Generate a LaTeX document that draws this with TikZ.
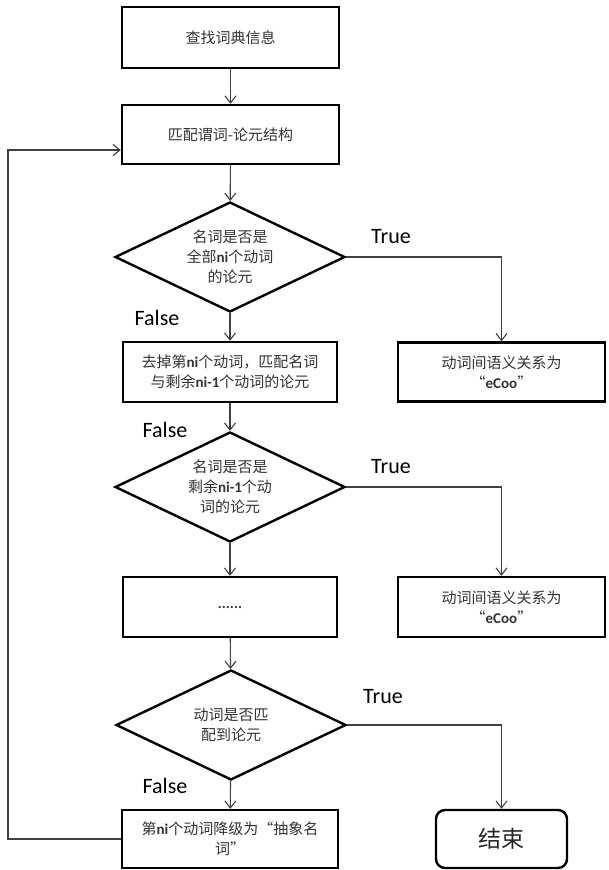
\documentclass[tikz,border=0pt]{standalone}
\usepackage{fontspec}
\setmainfont{Carlito}
\newfontfamily\cjk{Noto Sans CJK SC}
\usetikzlibrary{shapes.geometric,arrows.meta}

% body text of the boxes: Chinese face, Latin fragments in Carlito bold
\newcommand\bodyfont{\fontsize{15}{20}\selectfont\cjk}
\newcommand\lat[1]{{\rmfamily\bfseries #1}}

\tikzset{
  procbox/.style={rectangle, draw=black, line width=2.4pt, inner sep=0pt,
    align=center, font=\bodyfont, text=black!80},
  decide/.style={diamond, draw=black, line width=2.4pt, inner sep=0pt,
    aspect=2.09, minimum width=230pt, minimum height=110pt,
    align=center, font=\bodyfont, text=black!80},
  endbox/.style={rectangle, rounded corners=9pt, draw=black, line width=2.4pt,
    inner sep=0pt, font=\fontsize{23}{26}\selectfont\cjk, text=black!85},
  flow/.style={draw=black!75, line width=1.1pt,
    -{Straight Barb[length=7pt,width=11pt,line width=1.1pt]}},
  tag/.style={font=\fontsize{22}{26}\selectfont, text=black, inner sep=0pt}
}

\begin{document}
\begin{tikzpicture}[x=1pt,y=-1pt]
\useasboundingbox[fill=white] (0,0) rectangle (608,870);

% main column
\node[procbox, minimum width=217pt, minimum height=61pt] (find) at (230.5,37.5) {查找词典信息};
\node[procbox, minimum width=217pt, minimum height=59pt] (match) at (230.5,134.5) {匹配谓词-论元结构};
\node[decide] (q1) at (230,257) {名词是否是\\全部\lat{ni}个动词\\的论元};
\node[procbox, minimum width=214pt, minimum height=60pt] (drop) at (230,372)
  {去掉第\lat{ni}个动词，匹配名词\\与剩余\lat{ni-1}个动词的论元};
\node[decide] (q2) at (230,487) {名词是否是\\剩余\lat{ni-1}个动\\词的论元};
\node[procbox, minimum width=214pt, minimum height=60pt] (more) at (230,607) {\lat{......}};
\node[decide] (q3) at (231,725) {动词是否匹\\配到论元};
\node[procbox, minimum width=216pt, minimum height=58pt] (demote) at (230,839)
  {第\lat{ni}个动词降级为“抽象名\\词”};

% right column
\node[procbox, minimum width=207pt, minimum height=59pt] (rel1) at (501.5,372)
  {动词间语义关系为\\“\lat{eCoo}”};
\node[procbox, minimum width=207pt, minimum height=60pt] (rel2) at (501.5,607)
  {动词间语义关系为\\“\lat{eCoo}”};
\node[endbox, minimum width=131pt, minimum height=58pt] (stop) at (501.5,839) {结束};

% branch labels
\node[tag] (t1) at (391,237) {True};
\node[tag] (t2) at (391,467) {True};
\node[tag] (t3) at (383,697) {True};
\node[tag] (f1) at (157,318) {False};
\node[tag] (f2) at (165,430) {False};
\node[tag] (f3) at (165,786) {False};

% connectors
\draw[flow] (find) -- (match);
\draw[flow] (match) -- (q1);
\draw[flow] (q1) -- (drop);
\draw[flow] (drop) -- (q2);
\draw[flow] (q2) -- (more);
\draw[flow] (more) -- (q3);
\draw[flow] (q3) -- (demote);
\draw[flow] (q1.east) -| (rel1.north);
\draw[flow] (q2.east) -| (rel2.north);
\draw[flow] (q3.east) -| (stop.north);

% loop back from the demotion step
\coordinate (back) at (8,150);
\draw[flow] (demote.west) -| (back) -- (match.west |- back);
\end{tikzpicture}
\end{document}
